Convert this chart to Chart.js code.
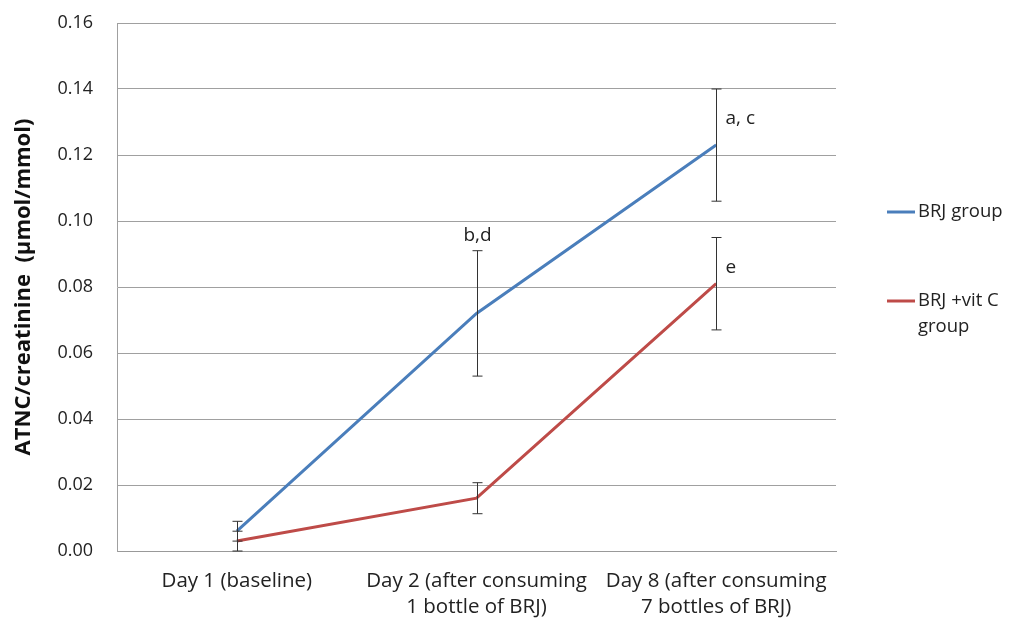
<!DOCTYPE html>
<html>
<head>
<meta charset="utf-8">
<script src="https://cdn.jsdelivr.net/npm/chart.js@4.4.0/dist/chart.umd.min.js"></script>
<style>
  html, body { margin: 0; padding: 0; background: #fff; }
  #wrap { width: 1013px; height: 619px; }
</style>
</head>
<body>
<div id="wrap"><canvas id="atncChart"></canvas></div>
<script>
  // Chart data
  const days = [
    'Day 1 (baseline)',
    ['Day 2 (after consuming', '1 bottle of BRJ)'],
    ['Day 8 (after consuming', '7 bottles of BRJ)']
  ];
  const brjValues = [0.006, 0.072, 0.123];
  const brjErrors = [0.003, 0.019, 0.017];
  const vitcValues = [0.003, 0.016, 0.081];
  const vitcErrors = [0.003, 0.0047, 0.014];
  const brjMarks = ['', 'b,d', 'a, c'];
  const vitcMarks = ['', '', 'e'];
  const yTicks = [0, 0.02, 0.04, 0.06, 0.08, 0.10, 0.12, 0.14, 0.16];

  const blue = '#4A7EBB';
  const red = '#BE4B48';
  const textFont = "'Open Sans', sans-serif";

  // error bars + significance letters
  const errorBars = {
    id: 'errorBars',
    afterDatasetsDraw(chart) {
      const { ctx, scales: { x, y } } = chart;
      ctx.save();
      ctx.strokeStyle = '#333';
      ctx.lineWidth = 1;
      chart.data.datasets.forEach(ds => {
        ds.data.forEach((v, i) => {
          const px = Math.round(x.getPixelForValue(i)) + 0.5;
          const top = y.getPixelForValue(v + ds.errors[i]);
          const bot = y.getPixelForValue(Math.max(0, v - ds.errors[i]));
          ctx.beginPath();
          ctx.moveTo(px, top); ctx.lineTo(px, bot);
          ctx.moveTo(px - 5, top); ctx.lineTo(px + 5, top);
          ctx.moveTo(px - 5, bot); ctx.lineTo(px + 5, bot);
          ctx.stroke();

          const mark = ds.marks[i];
          if (!mark) return;
          ctx.fillStyle = '#222';
          ctx.font = '19px ' + textFont;
          ctx.textBaseline = 'middle';
          if (i === 1) {
            ctx.textAlign = 'center';
            ctx.fillText(mark, px, top - 15);
          } else {
            ctx.textAlign = 'left';
            ctx.fillText(mark, px + 9, top + 30);
          }
        });
      });
      ctx.restore();
    }
  };

  // legend drawn to the right, like the original
  const sideLegend = {
    id: 'sideLegend',
    afterDraw(chart) {
      const { ctx, chartArea } = chart;
      const lx = chartArea.right + 51;
      ctx.save();
      ctx.font = '18.5px ' + textFont;
      ctx.fillStyle = '#222';
      ctx.textAlign = 'left';
      ctx.textBaseline = 'middle';
      const rows = [
        { color: blue, lines: ['BRJ group'], y: 212 },
        { color: red, lines: ['BRJ +vit C', 'group'], y: 301 }
      ];
      rows.forEach(r => {
        ctx.strokeStyle = r.color;
        ctx.lineWidth = 3;
        ctx.beginPath();
        ctx.moveTo(lx, r.y); ctx.lineTo(lx + 28, r.y);
        ctx.stroke();
        r.lines.forEach((t, k) => ctx.fillText(t, lx + 31, r.y + k * 26));
      });
      ctx.restore();
    }
  };

  new Chart(document.getElementById('atncChart'), {
    type: 'line',
    data: {
      labels: days,
      datasets: [{
        label: 'BRJ group',
        data: brjValues,
        errors: brjErrors,
        marks: brjMarks,
        borderColor: blue,
        borderWidth: 3,
        pointRadius: 0,
        tension: 0
      }, {
        label: 'BRJ +vit C group',
        data: vitcValues,
        errors: vitcErrors,
        marks: vitcMarks,
        borderColor: red,
        borderWidth: 3,
        pointRadius: 0,
        tension: 0
      }]
    },
    options: {
      responsive: true,
      maintainAspectRatio: false,
      animation: false,
      layout: { padding: { top: 23, right: 177, left: 0, bottom: 0 } },
      plugins: {
        legend: { display: false },
        tooltip: { enabled: false }
      },
      scales: {
        x: {
          offset: true,
          grid: { display: false, drawTicks: false },
          border: { color: '#999' },
          afterFit(scale) { scale.height = 68; },
          ticks: {
            color: '#222',
            padding: 17,
            maxRotation: 0,
            font: { family: textFont, size: 20.5, lineHeight: 1.27 }
          }
        },
        y: {
          min: 0,
          max: 0.16,
          afterBuildTicks(scale) { scale.ticks = yTicks.map(v => ({ value: v })); },
          afterFit(scale) {
            scale.width = 117;
            scale.paddingTop = 0;
            scale.paddingBottom = 0;
          },
          grid: { color: '#a0a0a0', drawTicks: false },
          border: { color: '#a0a0a0' },
          ticks: {
            color: '#222',
            padding: 24,
            font: { family: textFont, size: 18 },
            callback: v => v.toFixed(2)
          },
          title: {
            display: true,
            text: 'ATNC/creatinine  (µmol/mmol)',
            color: '#111',
            padding: { top: 11, bottom: 0 },
            font: { family: textFont, size: 22, weight: 'bold' }
          }
        }
      }
    },
    plugins: [errorBars, sideLegend]
  });
</script>
</body>
</html>
